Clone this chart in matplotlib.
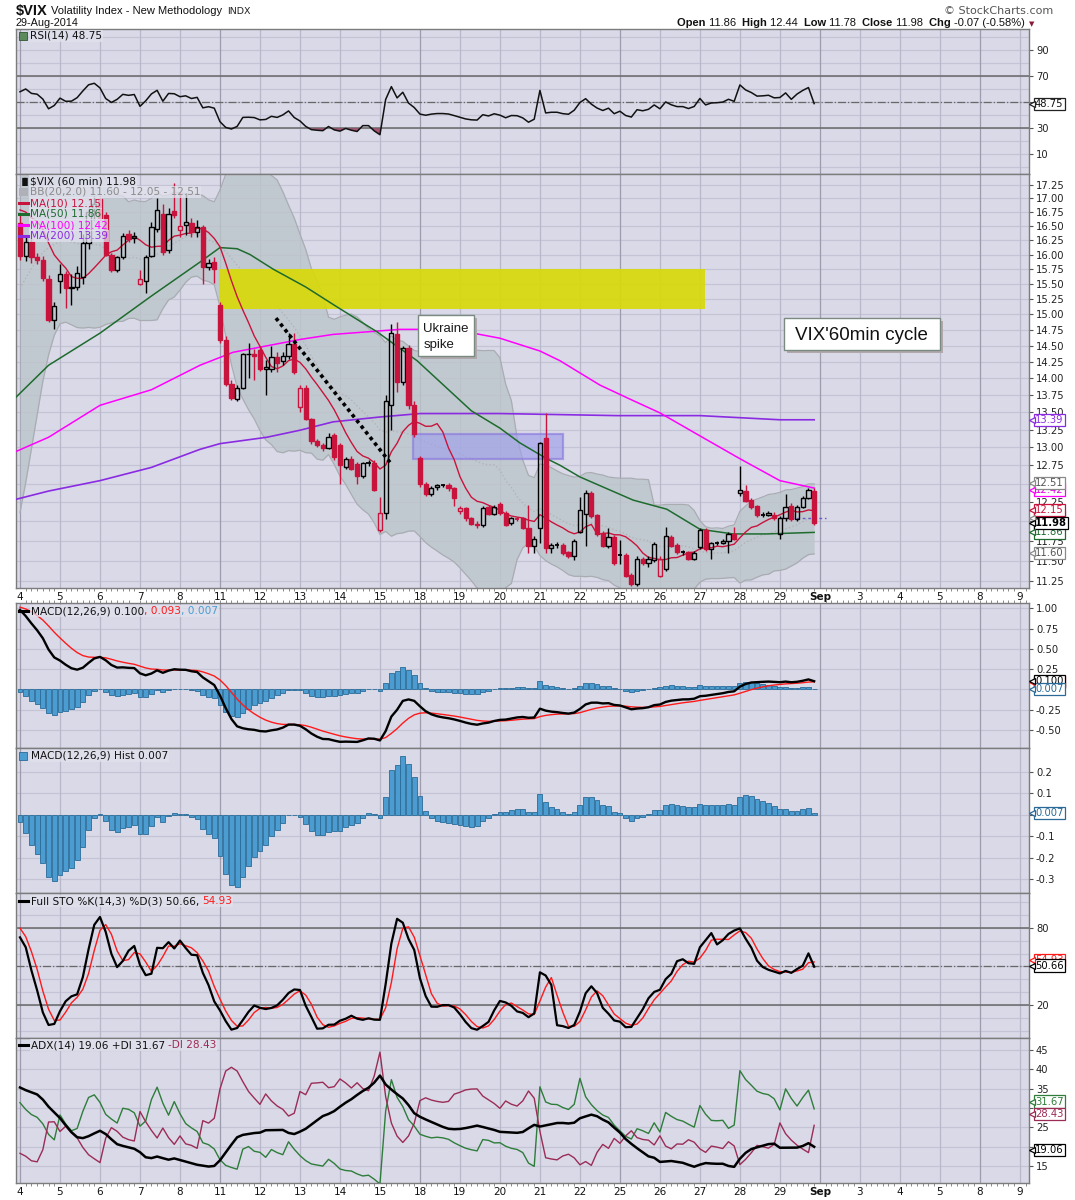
import numpy as np
import pandas as pd
import matplotlib
matplotlib.use('Agg')
import matplotlib.pyplot as plt
import matplotlib.transforms as mtrans
from matplotlib.patches import Rectangle
from matplotlib.ticker import NullLocator

# ------------------------------------------------------------------ data
day_labels = ['4', '5', '6', '7', '8', '11', '12', '13', '14', '15', '18', '19', '20',
              '21', '22', '25', '26', '27', '28', '29', 'Sep', '3', '4', '5', '8', '9']
day_pos = [0, 7, 14, 21, 28, 35, 42, 49, 56, 63, 70, 77, 84, 91, 98, 105, 112, 119,
           126, 133, 140, 147, 154, 161, 168, 175]
week_pos = [0, 35, 70, 105, 140, 168]

# 60 min candles, 4 Aug - 29 Aug 2014
opens = [16.55, 15.97, 16.22, 15.95, 15.90, 15.59, 14.91,
         15.55, 15.67, 15.44, 15.45, 15.62, 16.20, 16.83,
         16.99, 16.70, 16.00, 15.73, 15.95, 16.35, 16.28,
         15.50, 15.55, 15.97, 16.45, 16.72, 16.08, 16.77,
         16.43, 16.52, 16.55, 16.40, 16.48, 15.78, 15.87,
         15.15, 14.59, 13.92, 13.70, 13.86, 14.37, 14.38,
         14.44, 14.15, 14.15, 14.32, 14.26, 14.35, 14.53,
         13.57, 13.86, 13.40, 13.09, 13.03, 12.99, 13.17,
         13.03, 12.73, 12.84, 12.76, 12.60, 12.78, 12.78,
         11.89, 12.11, 13.60, 14.69, 13.95, 14.47, 13.60,
         12.85, 12.49, 12.36, 12.46, 12.48, 12.48, 12.44,
         12.14, 12.17, 12.04, 11.97, 11.95, 12.19, 12.10,
         12.23, 12.11, 11.98, 12.03, 12.04, 11.92, 11.69,
         11.92, 13.13, 11.66, 11.70, 11.70, 11.61, 11.56,
         11.87, 12.10, 12.37, 12.08, 11.85, 11.69, 11.80,
         11.58, 11.57, 11.33, 11.22, 11.52, 11.48, 11.51,
         11.32, 11.40, 11.80, 11.70, 11.61, 11.61, 11.53,
         11.67, 11.89, 11.65, 11.73, 11.73, 11.75, 11.84,
         12.37, 12.40, 12.28, 12.20, 12.09, 12.09, 12.09,
         11.84, 12.05, 12.20, 12.03, 12.19, 12.31, 12.40]
highs = [16.70, 16.30, 16.35, 16.02, 15.98, 15.65, 15.20,
         15.83, 15.72, 15.66, 15.80, 16.35, 16.85, 17.05,
         17.05, 16.75, 16.03, 15.98, 16.38, 16.42, 16.40,
         15.74, 16.00, 16.57, 17.00, 16.90, 16.82, 17.28,
         17.12, 17.10, 16.65, 16.60, 16.52, 15.92, 15.95,
         15.20, 14.65, 13.98, 13.90, 14.39, 14.55, 14.45,
         14.50, 14.28, 14.50, 14.40, 14.40, 14.70, 14.71,
         13.90, 13.90, 13.42, 13.12, 13.06, 13.20, 13.20,
         13.06, 12.86, 12.88, 12.80, 12.80, 12.82, 12.82,
         12.32, 13.75, 14.85, 14.87, 14.50, 14.52, 13.67,
         12.88, 12.52, 12.47, 12.50, 12.50, 12.51, 12.46,
         12.20, 12.19, 12.06, 12.00, 12.20, 12.22, 12.22,
         12.26, 12.13, 12.06, 12.06, 12.06, 12.21, 11.82,
         13.08, 13.49, 11.72, 11.74, 11.72, 11.63, 11.78,
         12.32, 12.42, 12.40, 12.10, 11.88, 11.92, 11.83,
         11.76, 11.60, 11.35, 11.56, 11.55, 11.56, 11.74,
         11.56, 11.93, 11.83, 11.72, 11.64, 11.63, 11.62,
         11.91, 11.91, 11.74, 11.75, 11.77, 11.86, 11.93,
         12.74, 12.48, 12.31, 12.22, 12.12, 12.13, 12.12,
         12.07, 12.36, 12.24, 12.21, 12.33, 12.44, 12.44]
lows = [15.90, 15.88, 15.85, 15.84, 15.55, 14.88, 14.76,
        15.35, 15.10, 15.15, 15.40, 15.50, 16.10, 16.60,
        16.60, 15.98, 15.70, 15.70, 15.92, 16.22, 16.20,
        15.48, 15.35, 15.95, 16.40, 16.00, 16.02, 16.65,
        16.30, 16.34, 16.30, 16.30, 15.50, 15.73, 15.52,
        14.55, 13.88, 13.68, 13.66, 13.84, 14.00, 13.97,
        14.12, 13.75, 14.10, 14.10, 14.20, 14.30, 14.07,
        13.50, 13.38, 13.05, 13.00, 12.95, 12.97, 12.82,
        12.50, 12.70, 12.68, 12.50, 12.58, 12.74, 12.40,
        11.86, 12.03, 13.24, 13.80, 13.90, 13.55, 13.15,
        12.45, 12.33, 12.33, 12.42, 12.45, 12.40, 12.20,
        12.10, 12.00, 11.95, 11.92, 11.93, 12.08, 12.08,
        12.08, 11.94, 11.95, 12.00, 11.90, 11.60, 11.60,
        11.72, 11.60, 11.60, 11.66, 11.58, 11.54, 11.51,
        11.85, 11.69, 12.05, 11.82, 11.67, 11.66, 11.45,
        11.46, 11.30, 11.20, 11.20, 11.45, 11.43, 11.49,
        11.30, 11.38, 11.67, 11.59, 11.58, 11.51, 11.51,
        11.65, 11.63, 11.53, 11.70, 11.71, 11.60, 11.76,
        12.34, 12.25, 12.16, 12.06, 12.06, 12.07, 12.02,
        11.78, 12.00, 12.00, 12.01, 12.17, 12.29, 11.96]
closes = [15.97, 16.22, 15.95, 15.90, 15.60, 14.91, 15.13,
          15.66, 15.44, 15.45, 15.69, 16.20, 16.75, 16.90,
          16.65, 16.00, 15.73, 15.95, 16.33, 16.27, 16.33,
          15.58, 15.95, 16.48, 16.79, 16.05, 16.72, 16.70,
          16.50, 16.57, 16.40, 16.48, 15.78, 15.85, 15.75,
          14.59, 13.92, 13.71, 13.85, 14.37, 14.38, 14.35,
          14.15, 14.17, 14.32, 14.24, 14.35, 14.53, 14.10,
          13.85, 13.40, 13.09, 13.03, 12.99, 13.14, 12.86,
          12.75, 12.84, 12.70, 12.60, 12.78, 12.78, 12.42,
          12.11, 13.67, 14.71, 13.95, 14.47, 13.60, 13.18,
          12.49, 12.36, 12.44, 12.48, 12.48, 12.44, 12.31,
          12.17, 12.04, 11.97, 11.95, 12.18, 12.10, 12.19,
          12.11, 11.96, 12.04, 12.03, 11.92, 11.69, 11.78,
          13.06, 11.66, 11.70, 11.70, 11.60, 11.56, 11.75,
          12.15, 12.37, 12.07, 11.84, 11.69, 11.80, 11.47,
          11.58, 11.32, 11.22, 11.53, 11.47, 11.53, 11.71,
          11.53, 11.82, 11.69, 11.61, 11.61, 11.53, 11.60,
          11.89, 11.65, 11.72, 11.73, 11.75, 11.84, 11.78,
          12.42, 12.27, 12.19, 12.08, 12.09, 12.11, 12.04,
          12.05, 12.19, 12.03, 12.19, 12.31, 12.41, 11.98]

# bars before 4 Aug (24 Jul - 1 Aug), used only to warm up the indicators
prior_close = [11.55, 11.62, 11.70, 11.66, 11.74, 11.80, 11.84,
               12.10, 12.35, 12.48, 12.55, 12.42, 12.58, 12.69,
               12.95, 13.30, 13.45, 13.20, 12.98, 12.80, 12.56,
               12.60, 12.70, 12.78, 12.85, 12.95, 13.15, 13.28,
               12.90, 12.98, 12.75, 12.70, 12.88, 13.05, 13.33,
               13.90, 14.70, 15.30, 15.75, 16.20, 16.60, 16.95,
               16.60, 16.95, 17.35, 17.20, 16.85, 16.50, 16.90]
prior_high = [11.62, 11.70, 11.78, 11.74, 11.80, 11.86, 11.90,
              12.20, 12.45, 12.60, 12.66, 12.60, 12.65, 12.75,
              13.05, 13.45, 13.60, 13.50, 13.22, 13.00, 12.85,
              12.72, 12.80, 12.88, 12.95, 13.05, 13.25, 13.40,
              13.35, 13.10, 13.00, 12.85, 12.95, 13.15, 13.40,
              14.00, 14.85, 15.45, 15.90, 16.35, 16.75, 17.05,
              17.20, 17.10, 17.50, 17.57, 17.30, 16.95, 17.00]
prior_low = [11.45, 11.52, 11.60, 11.58, 11.62, 11.70, 11.75,
             11.95, 12.05, 12.30, 12.40, 12.35, 12.38, 12.50,
             12.60, 12.90, 13.20, 13.10, 12.90, 12.70, 12.50,
             12.45, 12.55, 12.65, 12.75, 12.82, 12.92, 13.10,
             12.80, 12.85, 12.65, 12.60, 12.68, 12.85, 13.00,
             13.40, 13.85, 14.65, 15.25, 15.70, 16.15, 16.55,
             16.40, 16.50, 16.90, 17.05, 16.75, 16.40, 16.45]
adx_start = 35.3   # ADX(14) read at the first bar of 4 Aug

# long moving averages (bar position, value)
ma50_x = [-0.7, 5, 14, 23, 31.5, 35, 38, 40.25, 44.3, 50, 55, 62.5, 69.5, 79, 84,
          87.5, 92.2, 94.5, 98, 107.3, 113.2, 119, 124.8, 130.7, 139]
ma50_v = [13.72, 14.20, 14.70, 15.30, 15.87, 16.12, 16.10, 16.00, 15.75, 15.45, 15.15,
          14.72, 14.27, 13.52, 13.27, 13.06, 12.84, 12.75, 12.59, 12.28, 12.16, 11.90,
          11.84, 11.84, 11.86]
ma100_x = [-0.7, 5, 14, 23, 31.5, 37.3, 43.2, 49, 54.8, 66.5, 70, 79.3, 84, 91, 94.5,
           101.5, 107.3, 112, 119, 126, 133, 139]
ma100_v = [12.94, 13.14, 13.60, 13.83, 14.20, 14.40, 14.50, 14.60, 14.68, 14.76, 14.76,
           14.70, 14.62, 14.42, 14.27, 13.90, 13.67, 13.49, 13.16, 12.84, 12.54, 12.44]
ma200_x = [-0.7, 5, 14, 23, 31.5, 35, 43.2, 49, 54.8, 63, 70, 84, 104.5, 119, 133, 139]
ma200_v = [12.29, 12.40, 12.54, 12.72, 12.97, 13.05, 13.14, 13.24, 13.36, 13.43, 13.48,
           13.48, 13.45, 13.45, 13.39, 13.39]

# --------------------------------------------------------------- indicators
c_all = pd.Series(prior_close + closes)
h_all = pd.Series(prior_high + highs)
l_all = pd.Series(prior_low + lows)
n0 = len(prior_close)

ma10 = c_all.rolling(10).mean()
bb_mid = c_all.rolling(20).mean()
bb_sd = c_all.rolling(20).std(ddof=0)
bb_up = bb_mid + 2 * bb_sd
bb_lo = bb_mid - 2 * bb_sd

delta = c_all.diff().fillna(0)
avg_g = delta.clip(lower=0).ewm(alpha=1 / 14, adjust=False).mean()
avg_l = (-delta.clip(upper=0)).ewm(alpha=1 / 14, adjust=False).mean()
rsi = 100 - 100 / (1 + avg_g / avg_l)

macd = c_all.ewm(span=12, adjust=False).mean() - c_all.ewm(span=26, adjust=False).mean()
signal = macd.ewm(span=9, adjust=False).mean()
hist = macd - signal

ll = l_all.rolling(14, min_periods=1).min()
hh = h_all.rolling(14, min_periods=1).max()
fast_k = 100 * (c_all - ll) / (hh - ll)
full_k = fast_k.rolling(3, min_periods=1).mean()
full_d = full_k.rolling(3, min_periods=1).mean()

# Wilder DI, then ADX started from the value read at 4 Aug
up_move = h_all.diff().fillna(0).to_numpy()
dn_move = -l_all.diff().fillna(0).to_numpy()
plus_dm = np.where((up_move > dn_move) & (up_move > 0), up_move, 0.0)
minus_dm = np.where((dn_move > up_move) & (dn_move > 0), dn_move, 0.0)
prev_c = c_all.shift(1).fillna(c_all[0]).to_numpy()
hv_, lv_ = h_all.to_numpy(), l_all.to_numpy()
tr = np.maximum(hv_ - lv_, np.maximum(np.abs(hv_ - prev_c), np.abs(lv_ - prev_c)))
n_all = len(tr)
s_tr, s_p, s_m = np.zeros(n_all), np.zeros(n_all), np.zeros(n_all)
s_tr[14], s_p[14], s_m[14] = tr[1:15].mean(), plus_dm[1:15].mean(), minus_dm[1:15].mean()
for i in range(15, n_all):
    s_tr[i] = (s_tr[i - 1] * 13 + tr[i]) / 14
    s_p[i] = (s_p[i - 1] * 13 + plus_dm[i]) / 14
    s_m[i] = (s_m[i - 1] * 13 + minus_dm[i]) / 14
with np.errstate(invalid='ignore', divide='ignore'):
    pdi = 100 * s_p / s_tr
    mdi = 100 * s_m / s_tr
    dx = 100 * np.abs(pdi - mdi) / (pdi + mdi)
adx = np.full(n_all, np.nan)
adx[n0] = adx_start
for i in range(n0 + 1, n_all):
    adx[i] = (adx[i - 1] * 13 + dx[i]) / 14
pdi, mdi, adx = pd.Series(pdi), pd.Series(mdi), pd.Series(adx)


def cut(s):
    return s.to_numpy()[n0:]


x = np.arange(len(closes))

# ------------------------------------------------------------------ layout
W, H = 1075, 1200
L, R = 16, 1029
XMIN, XMAX = -0.7, 176.6
BG = '#d9d9e8'
GRID = '#c4c4d6'
DAYLINE = '#b8b8ca'
WEEKLINE = '#9c9cae'
RED = '#c8143c'
TICKFONT = 7.2

fig = plt.figure(figsize=(W / 100, H / 100), dpi=100)
fig.patch.set_facecolor('white')
renderer = fig.canvas.get_renderer()


def panel(top, bot):
    ax = fig.add_axes([L / W, 1 - bot / H, (R - L) / W, (bot - top) / H])
    ax.set_facecolor(BG)
    ax.set_xlim(XMIN, XMAX)
    for s in ax.spines.values():
        s.set_color('#7c7c7c')
        s.set_linewidth(1.0)
    ax.yaxis.tick_right()
    ax.tick_params(axis='y', labelsize=TICKFONT, length=3, width=0.8, color='#555555',
                   pad=2, labelcolor='#222222')
    ax.tick_params(axis='x', which='both', bottom=False, labelbottom=False)
    for p in day_pos:
        ax.axvline(p, color=WEEKLINE if p in week_pos else DAYLINE, lw=0.9, zorder=0.6)
    return ax


def hgrid(ax, vals):
    for v in vals:
        ax.axhline(v, color=GRID, lw=0.9, zorder=0.5)


def vbox(ax, y, txt, ec, tc, bold=False):
    tr_ = ax.get_yaxis_transform()
    ax.text(1.0 + 6 / (R - L), y, txt, transform=tr_, ha='left', va='center',
            fontsize=TICKFONT, color=tc, fontweight='bold' if bold else 'normal',
            bbox=dict(boxstyle='square,pad=0.12', fc='white', ec=ec, lw=0.9),
            zorder=10, clip_on=False)
    ax.plot([1.0 + 3 / (R - L)], [y], marker='<', ms=4.5, mfc='white', mec=ec, mew=0.9,
            transform=tr_, clip_on=False, zorder=11)


def runs(x_px, y_px, parts, size, family='DejaVu Sans', bg=None):
    xx = x_px
    for txt, color, weight in parts:
        t = fig.text(xx / W, 1 - y_px / H, txt, color=color, fontsize=size,
                     fontweight=weight, family=family, va='center', ha='left', zorder=20)
        if bg is not None:
            t.set_bbox(dict(boxstyle='square,pad=0.05', fc=bg, ec='none', alpha=0.75))
        xx += t.get_window_extent(renderer).width
    return xx


def dash(x_px, y_px, color, lw=2.2):
    fig.add_artist(plt.Line2D([x_px / W, (x_px + 9) / W], [1 - y_px / H, 1 - y_px / H],
                              color=color, lw=lw, zorder=21))


def day_axis(ax):
    ax.set_xticks(day_pos)
    ax.set_xticklabels(day_labels)
    ax.set_xticks(np.arange(0, 177), minor=True)
    ax.tick_params(axis='x', which='major', bottom=True, labelbottom=True, length=0,
                   pad=3, labelsize=7.5, labelcolor='#111111')
    ax.tick_params(axis='x', which='minor', bottom=True, length=2, width=0.6,
                   color='#777777')
    for lab in ax.get_xticklabels():
        if lab.get_text() == 'Sep':
            lab.set_fontweight('bold')


# ------------------------------------------------------------------ RSI
ax_rsi = panel(29, 174)
ax_rsi.set_ylim(-5.2, 106.5)
hgrid(ax_rsi, range(0, 101, 10))
ax_rsi.axhline(70, color='#686868', lw=1.1, zorder=1)
ax_rsi.axhline(30, color='#686868', lw=1.1, zorder=1)
ax_rsi.axhline(50, color='#686868', lw=0.9, ls='-.', zorder=1)
rsi_v = cut(rsi)
ax_rsi.fill_between(x, rsi_v, 30, where=rsi_v < 30, interpolate=True, color='#9c3d60',
                    alpha=0.85, lw=0, zorder=2)
ax_rsi.plot(x, rsi_v, color='#111111', lw=1.1, zorder=3)
ax_rsi.set_yticks([10, 30, 50, 70, 90])
ax_rsi.set_yticklabels(['10', '30', '', '70', '90'])
vbox(ax_rsi, 48.75, '48.75', '#222222', '#111111')

# ------------------------------------------------------------------ price
ax = panel(174, 588)
ax.set_yscale('log')
ax.set_ylim(11.17, 17.45)
pt = np.round(np.arange(11.25, 17.26, 0.25), 2)
ax.set_yticks(pt)
ax.set_yticklabels(['' if v in (12.0, 12.5) else '%.2f' % v for v in pt])
ax.yaxis.set_minor_locator(NullLocator())
hgrid(ax, pt)

ax.fill_between(x, cut(bb_lo), cut(bb_up), color='#bcc5ca', alpha=0.8, lw=0, zorder=1)
ax.plot(x, cut(bb_up), color='#a9adb2', lw=0.9, zorder=1.2)
ax.plot(x, cut(bb_lo), color='#a9adb2', lw=0.9, zorder=1.2)
ax.plot(x, cut(bb_mid), color='#b0b4b8', lw=1.0, ls=':', zorder=1.2)

ax.add_patch(Rectangle((34.8, 15.09), 85.1, 0.66, fc=(0.85, 0.85, 0.04), alpha=0.92,
                       lw=0, zorder=2.5))
ax.add_patch(Rectangle((68.8, 12.84), 26.2, 0.35, fc='#a0a0ea', alpha=0.65,
                       ec='#8a78de', lw=1.6, zorder=2.6))

ax.plot(ma200_x, ma200_v, color='#8a2be2', lw=1.2, zorder=3)
ax.plot(ma100_x, ma100_v, color='#ff00ff', lw=1.1, zorder=3)
ax.plot(ma50_x, ma50_v, color='#1e6b2e', lw=1.1, zorder=3)
ax.plot(x, cut(ma10), color='#c8143c', lw=1.0, zorder=3.2)

cw = 0.74
for i in range(len(closes)):
    o, h, lo, c = opens[i], highs[i], lows[i], closes[i]
    prev = closes[i - 1] if i > 0 else prior_close[-1]
    col = '#000000' if c >= prev else RED
    top, bot = max(o, c), min(o, c)
    ax.vlines(i, top, h, color=col, lw=1.0, zorder=4)
    ax.vlines(i, lo, bot, color=col, lw=1.0, zorder=4)
    if abs(c - o) < 0.006:
        ax.hlines(o, i - cw / 2, i + cw / 2, color=col, lw=1.3, zorder=4)
    else:
        ax.add_patch(Rectangle((i - cw / 2, bot), cw, top - bot,
                               fc=col if c < o else 'none', ec=col, lw=1.0, zorder=4))

ax.plot([133, 141], [12.04, 12.04], color='#6a5acd', lw=1.0, ls=(0, (2, 2)), zorder=3)
ax.plot([44.8, 64.75], [14.94, 12.79], color='black', lw=2.6, ls=(0, (1, 1)), zorder=6)

shadow = mtrans.offset_copy(ax.transData, fig=fig, x=3, y=-3, units='dots')
for (bx, by, bw, bh) in [(69.65, 14.34, 9.8, 0.65), (133.7, 14.43, 27.3, 0.51)]:
    ax.add_patch(Rectangle((bx, by), bw, bh, fc='#b0a8ac', ec='none', transform=shadow,
                           zorder=7))
    ax.add_patch(Rectangle((bx, by), bw, bh, fc='white', ec='#7a8a80', lw=1.0, zorder=7.5))
ax.text(70.6, 14.64, 'Ukraine\nspike', family='Liberation Sans', fontsize=9.5,
        color='#1a1a1a', ha='left', va='center', linespacing=1.45, zorder=8)
ax.text(147.3, 14.67, "VIX'60min cycle", family='Liberation Sans', fontsize=13.5,
        color='#111111', ha='center', va='center', zorder=8)

day_axis(ax)

vbox(ax, 12.05, '12.05', '#8a8a8a', '#707070')
vbox(ax, 12.42, '12.42', '#ff00ff', '#ee00ee')
vbox(ax, 12.51, '12.51', '#8a8a8a', '#555555')
vbox(ax, 13.39, '13.39', '#8a2be2', '#8a2be2')
vbox(ax, 12.15, '12.15', '#c8143c', '#c8143c')
vbox(ax, 11.86, '11.86', '#1e6b2e', '#1e6b2e')
vbox(ax, 11.98, '11.98', '#000000', '#000000', bold=True)
vbox(ax, 11.60, '11.60', '#8a8a8a', '#555555')

# ------------------------------------------------------------------ MACD
ax_m = panel(603, 748)
ax_m.set_ylim(-0.723, 1.066)
hgrid(ax_m, [-0.5, -0.25, 0, 0.25, 0.5, 0.75, 1.0])
hv = cut(hist)
ax_m.bar(x, hv, width=0.85, color='#4b9cd0', edgecolor='#2a6a98', lw=0.6, zorder=2)
ax_m.plot(x, cut(signal), color='#ff1a1a', lw=1.0, zorder=3)
ax_m.plot(x, cut(macd), color='#000000', lw=1.7, zorder=3.1)
ax_m.set_yticks([-0.5, -0.25, 0, 0.25, 0.5, 0.75, 1.0])
ax_m.set_yticklabels(['-0.50', '-0.25', '', '0.25', '0.50', '0.75', '1.00'])
ax_m.set_xticks(np.arange(0, 177), minor=True)
ax_m.tick_params(axis='x', which='minor', top=True, bottom=False, length=2, width=0.6,
                 color='#777777')
vbox(ax_m, 0.093, '0.093', '#ff1a1a', '#ff1a1a')
vbox(ax_m, 0.100, '0.100', '#000000', '#000000')
vbox(ax_m, 0.007, '0.007', '#2a6a98', '#2a6a98')

# ------------------------------------------------------------------ MACD hist
ax_h = panel(748, 893)
ax_h.set_ylim(-0.365, 0.31)
hgrid(ax_h, [-0.3, -0.2, -0.1, 0, 0.1, 0.2])
ax_h.bar(x, hv, width=0.85, color='#4b9cd0', edgecolor='#2a6a98', lw=0.6, zorder=2)
ax_h.set_yticks([-0.3, -0.2, -0.1, 0, 0.1, 0.2])
ax_h.set_yticklabels(['-0.3', '-0.2', '-0.1', '', '0.1', '0.2'])
vbox(ax_h, 0.007, '0.007', '#2a6a98', '#2a6a98')

# ------------------------------------------------------------------ STO
ax_s = panel(893, 1038)
ax_s.set_ylim(-5.3, 106.8)
hgrid(ax_s, range(0, 101, 10))
ax_s.axhline(80, color='#686868', lw=1.1, zorder=1)
ax_s.axhline(20, color='#686868', lw=1.1, zorder=1)
ax_s.axhline(50, color='#686868', lw=0.9, ls='-.', zorder=1)
ax_s.plot(x, cut(full_d), color='#ff1a1a', lw=1.0, zorder=3)
ax_s.plot(x, cut(full_k), color='#000000', lw=1.6, zorder=3.1)
ax_s.set_yticks([20, 50, 80])
ax_s.set_yticklabels(['20', '', '80'])
vbox(ax_s, 54.93, '54.93', '#ff1a1a', '#ff1a1a')
vbox(ax_s, 50.66, '50.66', '#000000', '#000000')

# ------------------------------------------------------------------ ADX
ax_a = panel(1038, 1183)
ax_a.set_ylim(10.6, 48.1)
hgrid(ax_a, range(15, 46, 5))
ax_a.plot(x, cut(pdi), color='#2e7d3a', lw=1.0, zorder=3)
ax_a.plot(x, cut(mdi), color='#9b2c55', lw=1.0, zorder=3)
ax_a.plot(x, cut(adx), color='#000000', lw=1.8, zorder=3.1)
ax_a.set_yticks([15, 20, 25, 30, 35, 40, 45])
ax_a.set_yticklabels(['15', '', '25', '', '35', '40', '45'])
day_axis(ax_a)
vbox(ax_a, 31.67, '31.67', '#2e7d3a', '#2e7d3a')
vbox(ax_a, 28.43, '28.43', '#9b2c55', '#9b2c55')
vbox(ax_a, 19.06, '19.06', '#000000', '#000000')

# ------------------------------------------------------------------ texts
xe = runs(16, 11, [('$VIX', '#111111', 'bold')], 10.5, 'Liberation Sans')
xe = runs(xe + 3, 11, [('Volatility Index - New Methodology', '#111111', 'normal')], 8.0,
          'Liberation Sans')
runs(xe + 5, 11.5, [('INDX', '#222222', 'normal')], 6.8, 'DejaVu Sans')
runs(16, 23.5, [('29-Aug-2014', '#111111', 'normal')], 7.8, 'Liberation Sans')
runs(944, 10.5, [('\u00a9 StockCharts.com', '#555555', 'normal')], 8, 'DejaVu Sans')
runs(677, 23.5, [('Open ', '#111111', 'bold'), ('11.86  ', '#111111', 'normal'),
                 ('High ', '#111111', 'bold'), ('12.44  ', '#111111', 'normal'),
                 ('Low ', '#111111', 'bold'), ('11.78  ', '#111111', 'normal'),
                 ('Close ', '#111111', 'bold'), ('11.98  ', '#111111', 'normal'),
                 ('Chg ', '#111111', 'bold'), ('-0.07 (-0.58%)', '#111111', 'normal')],
     8, 'Liberation Sans')
fig.text(1032 / W, 1 - 24 / H, '\u25bc', color='#8b1a3a', fontsize=5, ha='center',
         va='center')

bgc = '#e2e2ee'
runs(30, 36, [('RSI(14) 48.75', '#111111', 'normal')], 7.6, bg=bgc)
fig.add_artist(Rectangle((19 / W, 1 - 40 / H), 8 / W, 8 / H, fc='#5c8a5c', ec='#335533',
                         lw=0.6, zorder=21))

leg_y = [181, 192, 203, 214, 225, 236]
runs(30, leg_y[0], [('$VIX (60 min) 11.98', '#111111', 'normal')], 7.6, bg=bgc)
fig.text(19 / W, 1 - leg_y[0] / H, '\u2590\u258c', fontsize=6, color='#111111',
         va='center', ha='left', zorder=21)
runs(30, leg_y[1], [('BB(20,2.0) 11.60 - 12.05 - 12.51', '#8c8c8c', 'normal')], 7.6, bg=bgc)
fig.add_artist(Rectangle((19 / W, 1 - (leg_y[1] + 4) / H), 9 / W, 8 / H, fc='#b0b0b8',
                         ec='none', zorder=21))
for yy, txt, col in [(leg_y[2], 'MA(10) 12.15', '#c8143c'),
                     (leg_y[3], 'MA(50) 11.86', '#1e6b2e'),
                     (leg_y[4], 'MA(100) 12.42', '#ff00ff'),
                     (leg_y[5], 'MA(200) 13.39', '#8a2be2')]:
    dash(19, yy, col)
    runs(30, yy, [(txt, col, 'normal')], 7.6, bg=bgc)

dash(19, 611, '#000000')
runs(31, 611, [('MACD(12,26,9) 0.100', '#111111', 'normal'), (', 0.093', '#ff1a1a', 'normal'),
               (', 0.007', '#4b9cd0', 'normal')], 7.6, bg=bgc)
fig.add_artist(Rectangle((19 / W, 1 - 760 / H), 8 / W, 8 / H, fc='#4b9cd0', ec='#2a6a98',
                         lw=0.6, zorder=21))
runs(31, 756, [('MACD(12,26,9) Hist 0.007', '#111111', 'normal')], 7.6, bg=bgc)
dash(19, 901, '#000000')
runs(31, 901, [('Full STO %K(14,3) %D(3) 50.66, ', '#111111', 'normal'),
               ('54.93', '#ff1a1a', 'normal')], 7.6, bg=bgc)
dash(19, 1045, '#000000')
runs(31, 1045, [('ADX(14) 19.06 +DI 31.67 ', '#111111', 'normal'),
                ('-DI 28.43', '#9b2c55', 'normal')], 7.6, bg=bgc)

fig.savefig('out.png', dpi=100, facecolor='white')
